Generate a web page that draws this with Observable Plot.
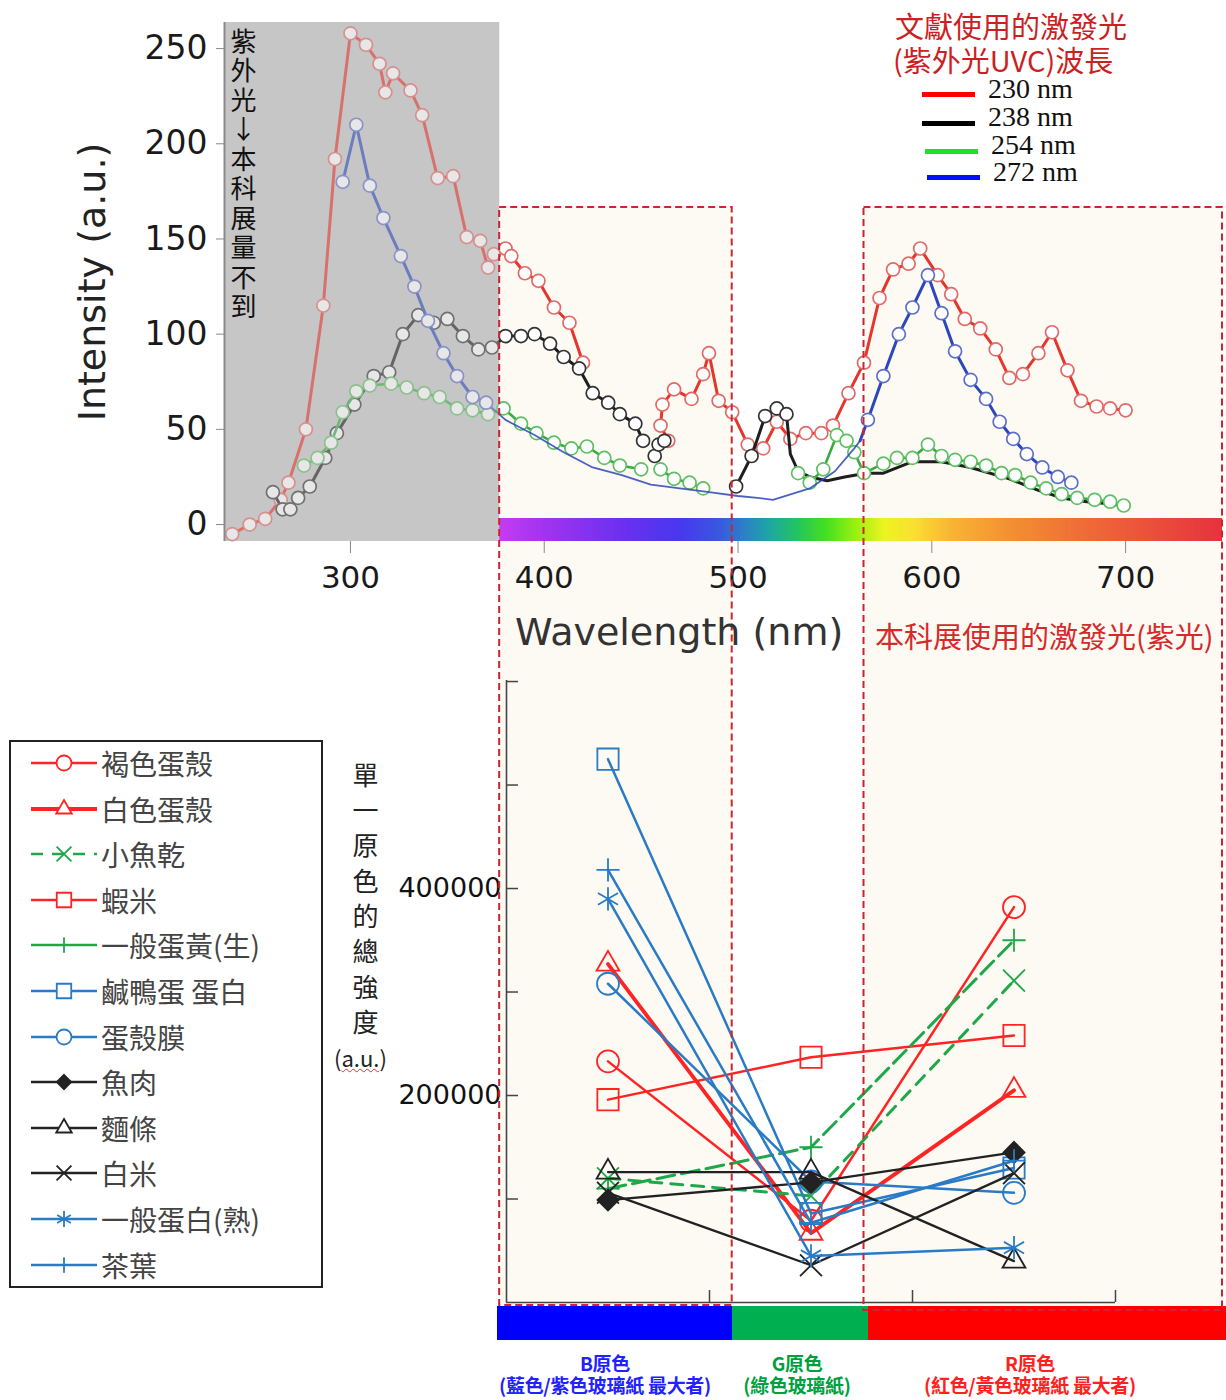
<!DOCTYPE html>
<html><head><meta charset="utf-8">
<script src="https://cdn.jsdelivr.net/npm/d3@7"></script>
<script src="https://cdn.jsdelivr.net/npm/@observablehq/plot@0.6"></script>
<style>
body{margin:0;background:#fff;font-family:"Noto Sans CJK TC","Noto Sans",sans-serif;}
#page{position:relative;width:1226px;height:1400px;overflow:hidden;background:#fff;}
</style></head><body><div id="page"></div>
<script>
// ---------------- TOP CHART DATA (wavelength nm, intensity a.u.) ----------------
const topNmTicks = [300, 400, 500, 600, 700];
const topITicks = [0, 50, 100, 150, 200, 250];
const uvBand = [235, 377];            // region not measurable (UV)
const boxNm = [[377, 497], [565, 750]]; // red dashed highlight bands
const excitationLabels = ["230 nm", "238 nm", "254 nm", "272 nm"];

const red230 = [[239,-5],[248,0],[256,3],[264,13],[268,22],[277,50],[286,115],[292,192],[300,258],[308,252],[315,242],[318,227],[322,237],[331,228],[337,215],[345,182],[353,183],[360,151],[367,149],[371,135],[374,142],[380,145],[383,141],[390,132],[397,128],[405,114],[413,106],[420,85],
null,
[464,44],[460,52],[461,63],[467,71],[476,66],[482,79],[485,90],[490,65],[497,59],[505,42],[513,40],[520,54],[527,45],[535,48],[543,48],[549,52],[557,69],[565,85],[573,119],[580,134],[588,137],[594,145],[603,131],[610,121],[617,108],[625,103],[633,92],[640,77],[647,79],[655,90],[662,101],[670,81],[677,65],[685,62],[692,61],[700,60]];

const black238 = [[260,17],[265,8],[269,8],[273,14],[279,20],[287,35],[293,48],[302,63],[312,78],[320,80],[327,100],[335,110],[343,106],[350,108],[358,99],[366,92],[373,93],[380,99],[388,99],[395,100],[403,95],[410,88],[418,82],[425,69],[433,64],[439,58],[447,53],[451,44],
null,[457,36],[459,42],[462,44],null,
[499,20],[507,36],[514,57],[520,61],[525,58],[527,37],[531,28],[537,25],[546,23],[555,25],[566,27],[575,27],[590,33],[605,33],[620,30],[640,24],[655,18],[667,14],[680,12],[690,11],[699,10]];

const green254 = [[276,31],[283,35],[290,43],[296,59],[303,70],[310,73],[321,74],[329,72],[338,69],[346,67],[355,61],[363,60],[371,58],[379,61],[388,53],[396,48],[405,43],[414,40],[422,41],[431,35],[439,31],[450,29],
null,[460,29],[467,24],[475,22],[482,19],null,
[531,27],[537,22],[544,29],[551,47],[556,44],[560,38],[565,27],[575,32],[582,35],[590,35],[598,42],[605,36],[612,34],[620,33],[628,31],[636,27],[643,26],[651,22],[659,19],[667,16],[675,14],[684,13],[692,12],[699,10]];

const blue272 = [[296,180],[303,210],[310,178],[317,161],[326,141],[333,125],[340,107],[348,90],[355,78],[363,67],[370,64],[380,55],[395,47],[410,38],[425,30],[440,26],[455,21],[470,19],[485,17],[500,15],[510,14],[518,13],[537,19],[550,28],[560,40],[563,44],[567,55],[575,78],[583,100],[590,114],[598,131],[605,111],[612,91],[620,76],[628,66],[635,54],[642,45],[649,37],[657,30],[665,25],[672,22]];

// visible spectrum colours under the axis
const spectrumStops = [[377,"#c43cf2"],[400,"#a034f0"],[440,"#6c30f0"],[470,"#4838ee"],[490,"#3a58e0"],[500,"#2e78cc"],[515,"#1fa4a8"],[530,"#22c460"],[545,"#44e022"],[560,"#98f010"],[575,"#ecf420"],[590,"#fae030"],[610,"#f8b434"],[640,"#f39032"],[680,"#ef6a38"],[720,"#ea4a3c"],[750,"#e6323e"]];

// ---------------- BOTTOM CHART DATA ----------------
const cats = ["B", "G", "R"];
const bottomTicks = [100000, 200000, 300000, 400000, 500000, 600000];
const bottomLabels = [200000, 400000];
const brownShell   = [233000,  79000, 382000]; // 褐色蛋殼
const whiteShell   = [327000,  67000, 205000]; // 白色蛋殼
const driedFish    = [120000, 103000, 311000]; // 小魚乾
const driedShrimp  = [196000, 237000, 258000]; // 蝦米
const rawYolk      = [110000, 150000, 350000]; // 一般蛋黃(生)
const saltedWhite  = [525000,  86000, 130000]; // 鹹鴨蛋 蛋白
const shellMembr   = [308000, 117000, 106000]; // 蛋殼膜
const fishMeat     = [ 99000, 116000, 145000]; // 魚肉
const noodles      = [126000, 126000,  40000]; // 麵條
const whiteRice    = [106000,  36000, 125000]; // 白米
const cookedWhite  = [390000,  45000,  53000]; // 一般蛋白(熟)
const teaLeaves    = [418000,  77000, 137000]; // 茶葉
const seriesNames = ["褐色蛋殼","白色蛋殼","小魚乾","蝦米","一般蛋黃(生)","鹹鴨蛋 蛋白","蛋殼膜","魚肉","麵條","白米","一般蛋白(熟)","茶葉"];
const seriesValues = [brownShell, whiteShell, driedFish, driedShrimp, rawYolk, saltedWhite, shellMembr, fishMeat, noodles, whiteRice, cookedWhite, teaLeaves];

// ---------------- STYLES ----------------
const RED = "#ff2424", GREEN = "#1fa84a", BLUE = "#2a7bc6", BLACK = "#222";
const bottomStyles = [
  {color: RED,   width: 2.5, symbol: "circle",   r: 11},
  {color: RED,   width: 3.8, symbol: "triangle", r: 8.5},
  {color: GREEN, width: 3,   symbol: "times",    r: 10, dash: "12,9", legendDash: true},
  {color: RED,   width: 2.5, symbol: "square",   r: 12},
  {color: GREEN, width: 3,   symbol: "plus",     r: 7.5, dash: "18,7"},
  {color: BLUE,  width: 2.5, symbol: "square",   r: 12},
  {color: BLUE,  width: 2.5, symbol: "circle",   r: 11},
  {color: BLACK, width: 2.3, symbol: "diamond2", r: 9.5, fill: BLACK},
  {color: BLACK, width: 2.3, symbol: "triangle", r: 8.5},
  {color: BLACK, width: 2.3, symbol: "times",    r: 10},
  {color: BLUE,  width: 2.5, symbol: "asterisk", r: 11},
  {color: BLUE,  width: 2.5, symbol: "plus",     r: 7.5}
];
const topStyles = [
  {data: red230,   line: "#e5352c", dot: "#e26a66", lineW: 3,   dotFilter: d => true},
  {data: black238, line: "#1e1e1e", dot: "#333",    lineW: 3,   dotFilter: d => d.nm <= 526},
  {data: green254, line: "#3aab44", dot: "#5fbf63", lineW: 2.6, dotFilter: d => true},
  {data: blue272,  line: "#2c47bb", dot: "#5d6fc8", lineW: 3,   dotFilter: d => d.nm < 372 || d.nm >= 566,
   thin: d => d.nm > 370 && d.nm < 563}
];
const legendLineColors = ["#ff0000", "#000000", "#22e022", "#0010ff"];

// ---------------- BUILD ----------------
const page = document.getElementById("page");
function addDiv(html, css) { const d = document.createElement("div"); d.innerHTML = html; d.style.cssText = "position:absolute;" + css; page.appendChild(d); return d; }
const toRows = arr => arr.map(p => p ? {nm: p[0], I: p[1]} : {nm: NaN, I: NaN});
const gap = {nm: NaN, I: NaN};
const specColor = d3.scaleLinear().domain(spectrumStops.map(s => s[0])).range(spectrumStops.map(s => s[1])).interpolate(d3.interpolateRgb);

const topMarks = [
  Plot.rect([uvBand], {x1: d => d[0], x2: d => d[1], fill: "#c6c6c6"}),
  Plot.rect(d3.range(uvBand[1], 750, 1), {x1: d => d, x2: d => Math.min(d + 1.6, 750), fill: d => specColor(d), insetTop: 496})
];
topStyles.forEach(s => {
  const rows = toRows(s.data);
  if (s.thin) {
    const thinRows = rows.map((d, i) => (s.thin(d) || (rows[i + 1] && s.thin(rows[i + 1])) || (rows[i - 1] && s.thin(rows[i - 1]))) ? d : gap);
    const thickRows = rows.map(d => s.thin(d) ? gap : d);
    topMarks.push(Plot.line(thinRows, {x: "nm", y: "I", stroke: s.line, strokeWidth: 1.8, strokeOpacity: 0.85}));
    topMarks.push(Plot.line(thickRows, {x: "nm", y: "I", stroke: s.line, strokeWidth: s.lineW, strokeLinejoin: "round"}));
  } else {
    topMarks.push(Plot.line(rows, {x: "nm", y: "I", stroke: s.line, strokeWidth: s.lineW, strokeLinejoin: "round"}));
  }
  topMarks.push(Plot.dot(rows, {filter: d => !isNaN(d.I) && s.dotFilter(d), x: "nm", y: "I", r: 6.5, fill: "white", stroke: s.dot, strokeWidth: 1.7}));
});
topMarks.push(
  Plot.rect([uvBand], {x1: d => d[0], x2: d => d[1], fill: "#c6c6c6", fillOpacity: 0.42}),
  Plot.ruleX([uvBand[0]], {stroke: "#8a8a8a", strokeWidth: 2}),
  Plot.axisY({ticks: topITicks, tickSize: 8, tickPadding: 9, stroke: "#888", fontSize: 33, label: null}),
  Plot.axisX({ticks: topNmTicks, tickSize: 12, tickPadding: 12, stroke: "#888", fontSize: 31, label: null})
);

const topPlot = Plot.plot({
  width: 1226, height: 660,
  marginLeft: 224, marginRight: 4, marginTop: 22, marginBottom: 119,
  x: {domain: [235, 750]},
  y: {domain: [-8.9, 263.7]},
  color: {type: "identity"},
  style: {background: "transparent", fontFamily: "'DejaVu Sans', Verdana, sans-serif", fontSize: "31px", color: "#1a1a1a", overflow: "visible"},
  marks: topMarks
});

const bottomMarks = [
  Plot.ruleY(bottomTicks, {insetRight: 597, stroke: "#444", strokeWidth: 1.5}),
  Plot.ruleX([0.5, 1.5, 2.5], {insetTop: 610, stroke: "#444", strokeWidth: 1.5}),
  Plot.ruleX([-0.5], {stroke: "#444", strokeWidth: 1.6}),
  Plot.ruleY([0], {stroke: "#444", strokeWidth: 1.6}),
  Plot.axisY({ticks: bottomLabels, tickSize: 0, tickPadding: 5, tickFormat: d => String(d), fontSize: 27, label: null})
];
seriesValues.forEach((vals, k) => {
  const st = bottomStyles[k];
  const rows = vals.map((v, i) => ({i, v, name: seriesNames[k]}));
  bottomMarks.push(Plot.line(rows, {x: "i", y: "v", stroke: st.color, strokeWidth: st.width, strokeDasharray: st.dash}));
  bottomMarks.push(Plot.dot(rows, {x: "i", y: "v", symbol: st.symbol, r: st.r, stroke: st.color, fill: st.fill || "none", strokeWidth: 1.8}));
});
const bottomPlot = Plot.plot({
  width: 1226, height: 660,
  marginLeft: 506, marginRight: 111, marginTop: 20, marginBottom: 18,
  x: {domain: [-0.5, cats.length - 0.5], axis: null},
  y: {domain: [0, 601000]},
  style: {background: "transparent", fontFamily: "'DejaVu Sans', Verdana, sans-serif", fontSize: "27px", color: "#111", overflow: "visible"},
  marks: bottomMarks
});

// cream highlight backgrounds + dashed frames, positioned from the top chart's x scale
const xs = topPlot.scale("x");
const boxPx = boxNm.map(([a, b], i) => ({x0: xs.apply(a), x1: xs.apply(b), y0: 207, y1: i === 0 ? 1305 : 1310}));
const NS = "http://www.w3.org/2000/svg";
function layer(z) { const s = document.createElementNS(NS, "svg"); s.setAttribute("width", 1226); s.setAttribute("height", 1400); s.style.cssText = `position:absolute;left:0;top:0;z-index:${z};pointer-events:none`; page.appendChild(s); return s; }
const bg = layer(0), fg = layer(2);
boxPx.forEach(b => {
  d3.select(bg).append("rect").attr("x", b.x0).attr("y", b.y0).attr("width", b.x1 - b.x0).attr("height", b.y1 - b.y0).attr("fill", "#fcfaf3");
  d3.select(fg).append("rect").attr("x", b.x0).attr("y", b.y0).attr("width", b.x1 - b.x0).attr("height", b.y1 - b.y0)
    .attr("fill", "none").attr("stroke", "#cc2430").attr("stroke-width", 2).attr("stroke-dasharray", "7 4");
});

topPlot.style.cssText += ";position:absolute;left:0;top:0;z-index:1";
bottomPlot.style.cssText += ";position:absolute;left:0;top:660px;z-index:1";
page.appendChild(topPlot);
page.appendChild(bottomPlot);

// colour bands under the bottom chart
[["#0000ff", 497, 732], ["#00b050", 732, 868], ["#ff0000", 868, 1226]].forEach(([c, a, b]) =>
  addDiv("", `left:${a}px;top:1306px;width:${b - a}px;height:34px;background:${c};z-index:1`));

// texts
const cjk = "'Noto Sans CJK TC','Noto Sans',sans-serif";
addDiv("紫外光↓本科展量不到", `left:228px;top:28px;writing-mode:vertical-rl;text-orientation:upright;letter-spacing:3.5px;font:26px/30px ${cjk};color:#111;z-index:3`);
addDiv("Intensity (a.u.)", `left:92px;top:282px;transform:translate(-50%,-50%) rotate(-90deg);white-space:nowrap;font:38px/1 'DejaVu Sans',sans-serif;color:#222;z-index:3`);
addDiv("Wavelength (nm)", `left:515px;top:613px;white-space:nowrap;font:38px/1 'DejaVu Sans',sans-serif;color:#333;z-index:3`);
addDiv("本科展使用的激發光(紫光)", `left:875px;top:621px;white-space:nowrap;font:29px/1 ${cjk};color:#d42a2a;z-index:3`);
addDiv("文獻使用的激發光", `left:895px;top:11px;white-space:nowrap;font:29px/1 ${cjk};color:#cc1f1f;z-index:3`);
addDiv("(紫外光UVC)波長", `left:893px;top:45px;white-space:nowrap;font:29px/1 ${cjk};color:#cc1f1f;z-index:3`);
const legY = [92, 121, 149, 175], legTextY = [79, 107, 135, 162], legX = [922, 922, 925, 927];
excitationLabels.forEach((t, i) => {
  addDiv("", `left:${legX[i]}px;top:${legY[i]}px;width:53px;height:5px;background:${legendLineColors[i]};z-index:3`);
  addDiv(t, `left:${legX[i] + 66}px;top:${legTextY[i]}px;white-space:nowrap;font:28px/20px 'Liberation Serif','Times New Roman',serif;color:#111;z-index:3`);
});

// bottom y label
addDiv("單一原色的總強度", `left:350px;top:762px;writing-mode:vertical-rl;text-orientation:upright;letter-spacing:9.3px;font:26px/30px ${cjk};color:#222;z-index:3`);
addDiv("(<span style=\"text-decoration:underline wavy #e03030;text-decoration-thickness:1px\">a.u.</span>)", `left:334px;top:1046px;white-space:nowrap;font:22px/1 ${cjk};color:#222;z-index:3`);

// category labels under colour bands
[["B原色", "(藍色/紫色玻璃紙 最大者)", 605, "#2222ff"], ["G原色", "(綠色玻璃紙)", 797, "#00a040"], ["R原色", "(紅色/黃色玻璃紙 最大者)", 1030, "#ff2020"]].forEach(([a, b, cx, c]) => {
  addDiv(`${a}<br>${b}`, `left:${cx}px;top:1352px;transform:translateX(-50%);white-space:nowrap;text-align:center;font:bold 19px/22px ${cjk};color:${c};z-index:3;letter-spacing:-0.3px`);
});

// legend box
const legend = addDiv("", "left:9px;top:740px;width:310px;height:544px;border:2px solid #222;background:#fff;z-index:3");
const symMap = {circle: d3.symbolCircle, triangle: d3.symbolTriangle, times: d3.symbolTimes, square: d3.symbolSquare, plus: d3.symbolPlus, diamond2: d3.symbolDiamond2, asterisk: d3.symbolAsterisk};
seriesNames.forEach((name, k) => {
  const st = bottomStyles[k];
  const cy = 21 + k * 45.6;
  const rr = st.r * 0.68;
  const path = d3.symbol(symMap[st.symbol], Math.PI * rr * rr)();
  const sw = k === 1 ? 4 : 2.6;
  const dash = st.legendDash ? `stroke-dasharray="12,9"` : "";
  const row = document.createElement("div");
  row.style.cssText = `position:absolute;left:0;top:${cy - 20}px;height:40px;width:306px`;
  row.innerHTML = `<svg width="92" height="40" style="position:absolute;left:0;top:0"><line x1="20" x2="86" y1="20" y2="20" stroke="${st.color}" stroke-width="${sw}" ${dash}/><path d="${path}" transform="translate(53,20)" fill="${st.fill ? st.fill : (st.symbol === 'circle' || st.symbol === 'square' || st.symbol === 'triangle' ? '#fff' : 'none')}" stroke="${st.color}" stroke-width="1.8"/></svg><span style="position:absolute;left:90px;top:4px;white-space:nowrap;font:28px/32px ${cjk};color:#444">${name}</span>`;
  legend.appendChild(row);
});
</script></body></html>
